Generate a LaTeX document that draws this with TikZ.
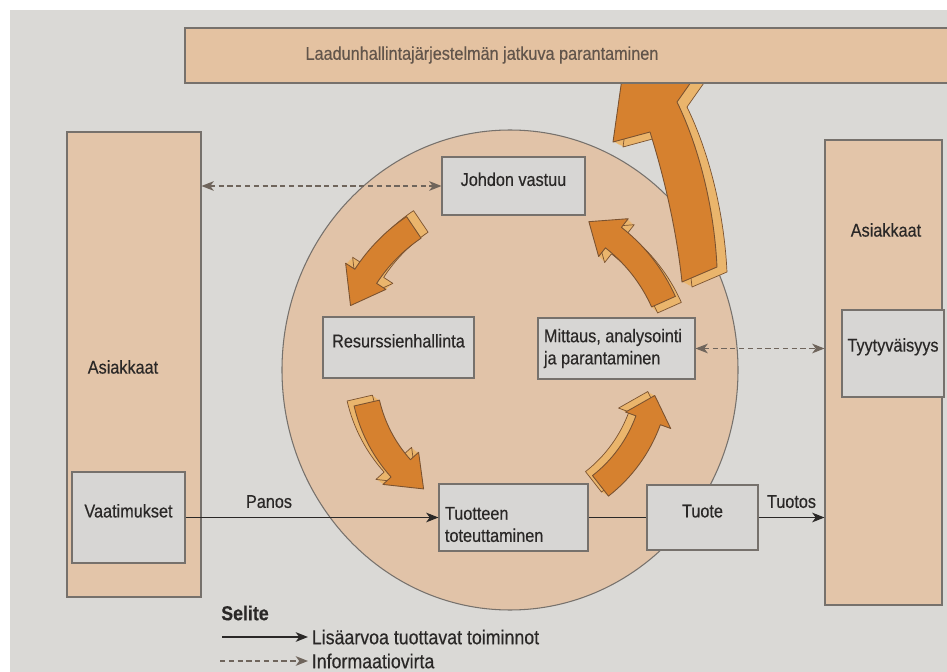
\documentclass[tikz,border=0pt]{standalone}
\usepackage{fontspec}
\setmainfont{Liberation Sans}[FakeStretch=0.88, FakeBold=0.4]
\usetikzlibrary{arrows.meta,fit,positioning}

\definecolor{page}{HTML}{DAD9D6}
\definecolor{tan}{HTML}{E3C5A9}
\definecolor{discfill}{HTML}{E1C3A8}
\definecolor{boxgray}{HTML}{D7D6D4}
\definecolor{edge}{HTML}{76716C}
\definecolor{ink}{HTML}{2A2827}
\definecolor{arrowface}{HTML}{D6812F}
\definecolor{arrowlight}{HTML}{EAB56C}
\definecolor{arrowedge}{HTML}{7A5230}
\definecolor{dashgray}{HTML}{6F655C}
\definecolor{bannerink}{HTML}{62554B}

\newcommand{\boxfont}{\fontsize{10.5}{12.6}\selectfont}
\newcommand{\legfont}{\fontsize{11.5}{13.8}\selectfont}

\tikzset{
    tall/.style =   {rectangle,
                    fill=tan,
                    draw=edge,
                    line width=0.6pt,
                    inner sep=0pt},
    banner/.style = {rectangle,
                    fill=tan!95!orange,
                    draw=edge,
                    line width=0.6pt,
                    inner sep=0pt},
    box/.style =    {rectangle,
                    fill=boxgray,
                    draw=edge,
                    text=ink,
                    line width=0.6pt,
                    inner sep=0pt,
                    font=\boxfont},
    disc/.style =   {fill=discfill,
                    draw=edge,
                    line width=0.6pt},
    -,
    lbl/.style =    {text=ink,
                    font=\boxfont,
                    inner sep=2pt},
    bannerlbl/.style = {text=bannerink,
                    font=\boxfont,
                    inner sep=2pt},
    legtitle/.style = {text=ink,
                    font=\legfont\bfseries,
                    inner sep=2pt},
    legtext/.style = {text=ink,
                    font=\legfont,
                    inner sep=2pt},
    -,
    blockface/.style = {fill=arrowface,
                    draw=arrowedge,
                    line width=0.5pt,
                    line join=round},
    sideedge/.style = {draw=arrowedge,
                    line width=0.4pt,
                    line join=round},
    flow/.style =   {draw=ink,
                    line width=0.75pt},
    infoflow/.style = {draw=dashgray,
                    line width=0.75pt,
                    dash pattern=on 3pt off 2pt},
    >={Stealth[length=7pt,width=5.5pt,inset=2pt]}}

% curved block arrow on a ring round the circle centre:
% tail angle, head base angle, tip angle, radius
\newcommand{\ringpath}[4]{({-(#1)}:{#4+13})
    arc[start angle={-(#1)}, end angle={-(#2)}, radius={#4+13}]
    -- ({-(#2)}:{#4+24}) -- ({-(#3)}:{#4}) -- ({-(#2)}:{#4-24})
    -- ({-(#2)}:{#4-13})
    arc[start angle={-(#2)}, end angle={-(#1)}, radius={#4-13}] -- cycle}

% same, with a lighter side pushed out by (#5,#6)
\newcommand{\ringarrow}[6]{%
    \begin{scope}[shift={(510,370)}]
        \foreach \k in {1,...,6}
            \fill[arrowlight, shift={({\k*(#5)/6},{\k*(#6)/6})}] \ringpath{#1}{#2}{#3}{#4};
        \draw[sideedge, shift={(#5,#6)}] \ringpath{#1}{#2}{#3}{#4};
        \filldraw[blockface] \ringpath{#1}{#2}{#3}{#4};
    \end{scope}}

\newcommand{\bigpath}{(682,282) .. controls (676,225) and (662,170) .. (650,132)
    -- (613,142) -- (626,50) -- (708,58) -- (677,102)
    .. controls (698,145) and (714,205) .. (717,267) -- cycle}

\begin{document}
\begin{tikzpicture}[x=0.02cm, y=-0.02cm]
    \useasboundingbox (0,0) rectangle (947,672);
    \fill[white] (0,0) rectangle (947,672);
    \fill[page] (10,10) rectangle (947,672);

    % customers and the process circle
    \node[tall]     (asiakL) [fit={(67,132) (201,597)}]   {};
    \node[tall]     (asiakR) [fit={(825,140) (942,605)}]  {};
    \draw[disc] (510,370) ellipse [x radius=228, y radius=240];

    % improvement arrow, head hidden by the banner
    \foreach \k in {1,...,8}
        \fill[arrowlight, shift={({\k*10/8},{\k*5/8})}] \bigpath;
    \draw[sideedge, shift={(10,5)}] \bigpath;
    \filldraw[blockface] \bigpath;
    \node[banner]   (banner) [fit={(185,28) (965,83)}]    {};
    \node[bannerlbl] (bannertxt) at (482,55) {Laadunhallintajärjestelmän jatkuva parantaminen};

    \node[box]      (vaatim)   [fit={(72,472) (185,563)}]   {Vaatimukset};
    \node[box]      (tyyty)    [fit={(842,310) (944,397)}]  {Tyytyväisyys};
    \node[box]      (johdon)   [fit={(442,157) (585,215)}]  {Johdon vastuu};
    \node[box]      (resurs)   [fit={(323,317) (474,378)}]  {Resurssienhallinta};
    \node[box]      (mittaus)  [fit={(538,318) (695,379)}]  {};
    \node[box]      (tuotteen) [fit={(439,484) (588,551)}]  {};
    \node[box]      (tuote)    [fit={(647,485) (758,550)}]  {Tuote};

    \node[lbl]      (asiakLtxt) at (123,367) {Asiakkaat};
    \node[lbl]      (asiakRtxt) at (886,230) {Asiakkaat};
    \node[lbl, align=left] (mittaustxt)  [right=1.5pt of mittaus.west] {Mittaus, analysointi\\ja parantaminen};
    \node[lbl, align=left] (tuotteentxt) [right=1.5pt of tuotteen.west, yshift=-4pt] {Tuotteen\\toteuttaminen};

    % cycle arrows
    \ringarrow{124}{147}{158}{172}{7}{-6}
    \ringarrow{193}{222}{234}{147}{-7}{-5}
    \ringarrow{-52}{-20}{-10}{147}{-7}{-4}
    \ringarrow{24}{52}{62}{168}{6}{6}

    % flows
    \draw[flow,->]  (vaatim.east) -- node[lbl, above=3pt, pos=0.33] (panos) {Panos} (tuotteen.west);
    \draw[flow]     (tuotteen.east) -- (tuote.west);
    \draw[flow,->]  (tuote.east) -- node[lbl, above=3pt] (tuotos) {Tuotos} (tuote.east -| asiakR.west);
    \draw[infoflow,<->] (asiakL.east |- johdon.west) -- (johdon.west);
    \draw[infoflow,<->] (mittaus.east) -- (mittaus.east -| asiakR.west);

    % legend
    \coordinate (leg1) at (222,637);
    \coordinate (leg2) at (220,661);
    \node[legtitle] (selite) at (245,613) {Selite};
    \node[legtext]  (lisa)      [right=1.72cm of leg1] {Lisäarvoa tuottavat toiminnot};
    \node[legtext]  (infovirta) [right=1.76cm of leg2] {Informaatiovirta};
    \draw[flow,->]      (leg1) -- (lisa);
    \draw[infoflow,->]  (leg2) -- (infovirta);
\end{tikzpicture}
\end{document}
